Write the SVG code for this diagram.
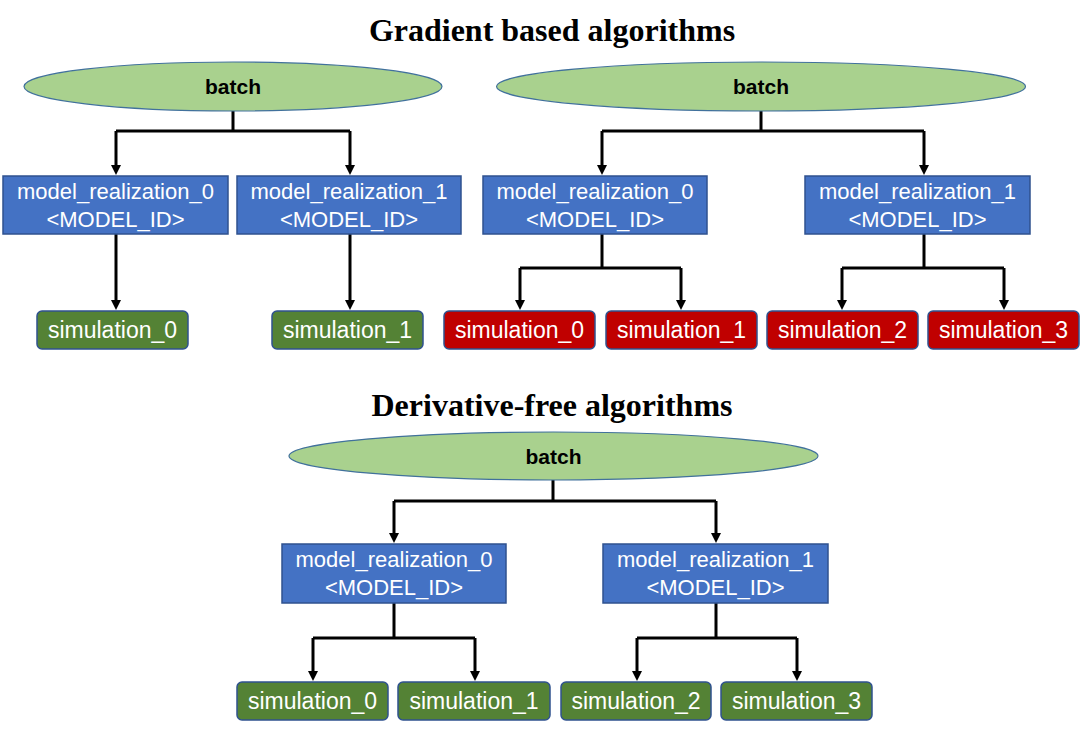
<svg xmlns="http://www.w3.org/2000/svg" width="1082" height="730" viewBox="0 0 1082 730">
<defs>
<style>
.title{font-family:"Liberation Serif","Times New Roman",serif;font-weight:bold;font-size:32px;fill:#000;text-anchor:middle}
.batch{fill:#A9D18E;stroke:#41719C;stroke-width:1.2}
.bt{font-family:"Liberation Sans",Arial,sans-serif;font-weight:bold;font-size:21px;fill:#000;text-anchor:middle}
.mr{fill:#4472C4;stroke:#2F528F;stroke-width:1.5}
.simg{fill:#548235;stroke:#2F528F;stroke-width:1.5}
.simr{fill:#C00000;stroke:#2F528F;stroke-width:1.5}
.wt{font-family:"Liberation Sans",Arial,sans-serif;font-size:22px;fill:#fff;text-anchor:middle}
.st{font-family:"Liberation Sans",Arial,sans-serif;font-size:23px;fill:#fff;text-anchor:middle}
.c{fill:none;stroke:#000;stroke-width:3;stroke-linejoin:miter}
</style>
<marker id="ah" markerUnits="userSpaceOnUse" markerWidth="12" markerHeight="12" viewBox="0 -6 12 12" refX="0" refY="0" orient="auto">
<path d="M0,-5 L10,0 L0,5 z" fill="#000"/>
</marker>
</defs>
<rect width="1082" height="730" fill="#fff"/>
<text class="title" x="552" y="41">Gradient based algorithms</text>
<text class="title" x="552" y="416">Derivative-free algorithms</text>

<g id="connectors">
<path class="c" d="M233,111 V131 M116,131 H350"/>
<path class="c" d="M116,131 V165" marker-end="url(#ah)"/>
<path class="c" d="M350,131 V165" marker-end="url(#ah)"/>
<path class="c" d="M116,234 V300" marker-end="url(#ah)"/>
<path class="c" d="M350,234 V300" marker-end="url(#ah)"/>

<path class="c" d="M761,111 V131 M602,131 H924"/>
<path class="c" d="M602,131 V165" marker-end="url(#ah)"/>
<path class="c" d="M924,131 V165" marker-end="url(#ah)"/>
<path class="c" d="M602,234 V268 M520,268 H681"/>
<path class="c" d="M520,268 V300" marker-end="url(#ah)"/>
<path class="c" d="M681,268 V300" marker-end="url(#ah)"/>
<path class="c" d="M924,234 V268 M842,268 H1004"/>
<path class="c" d="M842,268 V300" marker-end="url(#ah)"/>
<path class="c" d="M1004,268 V300" marker-end="url(#ah)"/>

<path class="c" d="M553,480 V501 M394,501 H716"/>
<path class="c" d="M394,501 V533" marker-end="url(#ah)"/>
<path class="c" d="M716,501 V533" marker-end="url(#ah)"/>
<path class="c" d="M394,603 V638 M313,638 H475"/>
<path class="c" d="M313,638 V671" marker-end="url(#ah)"/>
<path class="c" d="M475,638 V671" marker-end="url(#ah)"/>
<path class="c" d="M716,603 V638 M637,638 H797"/>
<path class="c" d="M637,638 V671" marker-end="url(#ah)"/>
<path class="c" d="M797,638 V671" marker-end="url(#ah)"/>
</g>

<g id="g-batch">
<ellipse class="batch" cx="233" cy="86.5" rx="209" ry="24.5"/>
<text class="bt" x="233" y="94">batch</text>
</g>
<g id="g-mr0">
<rect class="mr" x="3" y="176" width="225" height="58"/>
<text class="wt" x="115.5" y="199">model_realization_0</text>
<text class="wt" x="115.5" y="227">&lt;MODEL_ID&gt;</text>
</g>
<g id="g-mr1">
<rect class="mr" x="237" y="176" width="224" height="58"/>
<text class="wt" x="349" y="199">model_realization_1</text>
<text class="wt" x="349" y="227">&lt;MODEL_ID&gt;</text>
</g>
<g id="g-sim0">
<rect class="simg" x="37" y="311" width="151" height="38" rx="5"/>
<text class="st" x="112.5" y="338">simulation_0</text>
</g>
<g id="g-sim1">
<rect class="simg" x="272" y="311" width="151" height="38" rx="5"/>
<text class="st" x="347.5" y="338">simulation_1</text>
</g>

<g id="r-batch">
<ellipse class="batch" cx="761" cy="86.5" rx="264.5" ry="24.5"/>
<text class="bt" x="761" y="94">batch</text>
</g>
<g id="r-mr0">
<rect class="mr" x="483" y="176" width="224" height="58"/>
<text class="wt" x="595" y="199">model_realization_0</text>
<text class="wt" x="595" y="227">&lt;MODEL_ID&gt;</text>
</g>
<g id="r-mr1">
<rect class="mr" x="805" y="176" width="225" height="58"/>
<text class="wt" x="917.5" y="199">model_realization_1</text>
<text class="wt" x="917.5" y="227">&lt;MODEL_ID&gt;</text>
</g>
<g id="r-sim0">
<rect class="simr" x="444" y="311" width="151" height="38" rx="5"/>
<text class="st" x="519.5" y="338">simulation_0</text>
</g>
<g id="r-sim1">
<rect class="simr" x="606" y="311" width="151" height="38" rx="5"/>
<text class="st" x="681.5" y="338">simulation_1</text>
</g>
<g id="r-sim2">
<rect class="simr" x="767" y="311" width="151" height="38" rx="5"/>
<text class="st" x="842.5" y="338">simulation_2</text>
</g>
<g id="r-sim3">
<rect class="simr" x="928" y="311" width="151" height="38" rx="5"/>
<text class="st" x="1003.5" y="338">simulation_3</text>
</g>

<g id="d-batch">
<ellipse class="batch" cx="553.5" cy="456" rx="264.5" ry="24"/>
<text class="bt" x="553.5" y="463.5">batch</text>
</g>
<g id="d-mr0">
<rect class="mr" x="282" y="544" width="224" height="59"/>
<text class="wt" x="394" y="567">model_realization_0</text>
<text class="wt" x="394" y="595">&lt;MODEL_ID&gt;</text>
</g>
<g id="d-mr1">
<rect class="mr" x="603" y="544" width="225" height="59"/>
<text class="wt" x="715.5" y="567">model_realization_1</text>
<text class="wt" x="715.5" y="595">&lt;MODEL_ID&gt;</text>
</g>
<g id="d-sim0">
<rect class="simg" x="237" y="682" width="151" height="38" rx="5"/>
<text class="st" x="312.5" y="709">simulation_0</text>
</g>
<g id="d-sim1">
<rect class="simg" x="398" y="682" width="152" height="38" rx="5"/>
<text class="st" x="474" y="709">simulation_1</text>
</g>
<g id="d-sim2">
<rect class="simg" x="561" y="682" width="150" height="38" rx="5"/>
<text class="st" x="636" y="709">simulation_2</text>
</g>
<g id="d-sim3">
<rect class="simg" x="721" y="682" width="151" height="38" rx="5"/>
<text class="st" x="796.5" y="709">simulation_3</text>
</g>
</svg>
